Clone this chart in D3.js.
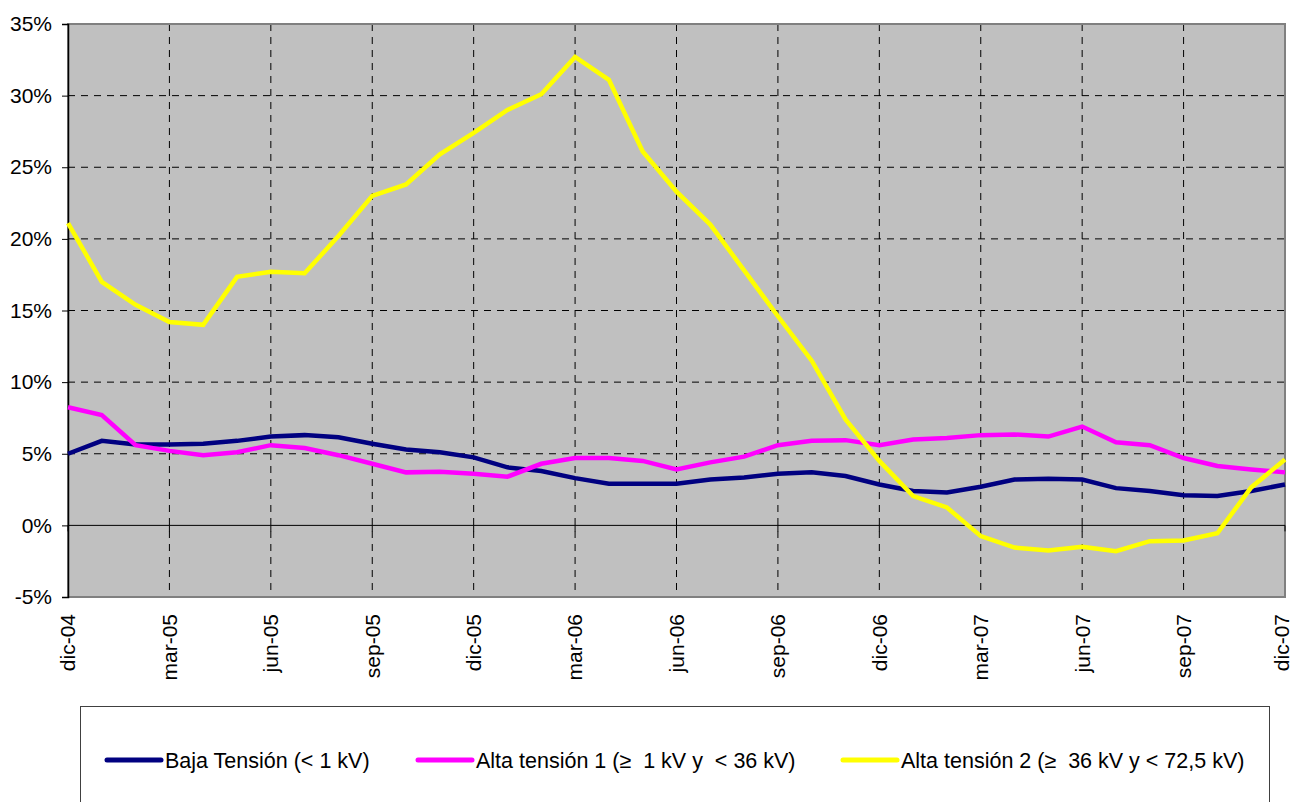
<!DOCTYPE html>
<html>
<head>
<meta charset="utf-8">
<script src="https://cdn.jsdelivr.net/npm/d3@7"></script>
<style>
  body { margin: 0; background: #fff; }
  svg { font-family: Arial, "Liberation Sans", sans-serif; }
  .grid line { stroke: #000; stroke-dasharray: 7,6; stroke-width: 1; }
  .axis text { font-size: 21px; fill: #000; }
  .legend text { white-space: pre; }
</style>
</head>
<body>
<svg id="chart" width="1293" height="802"></svg>
<script>
const months = [
  "dic-04","ene-05","feb-05","mar-05","abr-05","may-05","jun-05","jul-05","ago-05","sep-05","oct-05","nov-05",
  "dic-05","ene-06","feb-06","mar-06","abr-06","may-06","jun-06","jul-06","ago-06","sep-06","oct-06","nov-06",
  "dic-06","ene-07","feb-07","mar-07","abr-07","may-07","jun-07","jul-07","ago-07","sep-07","oct-07","nov-07",
  "dic-07"
];

const bajaTension = [
  5.0, 5.9, 5.65, 5.65, 5.7, 5.9, 6.2, 6.3, 6.15, 5.7, 5.3, 5.1,
  4.75, 4.05, 3.8, 3.3, 2.9, 2.9, 2.9, 3.2, 3.35, 3.6, 3.7, 3.45,
  2.85, 2.4, 2.3, 2.7, 3.2, 3.25, 3.2, 2.6, 2.4, 2.1, 2.05, 2.4,
  2.85
];

const altaTension1 = [
  8.25, 7.7, 5.6, 5.2, 4.9, 5.1, 5.6, 5.4, 4.9, 4.3, 3.7, 3.75,
  3.6, 3.4, 4.3, 4.7, 4.7, 4.5, 3.9, 4.4, 4.8, 5.6, 5.9, 5.95,
  5.6, 6.0, 6.1, 6.3, 6.35, 6.2, 6.9, 5.8, 5.6, 4.7, 4.15, 3.9,
  3.7
];

const altaTension2 = [
  21.1, 17.0, 15.4, 14.2, 14.0, 17.35, 17.7, 17.6, 20.2, 23.0, 23.8, 25.9,
  27.4, 29.0, 30.1, 32.7, 31.1, 26.1, 23.3, 21.0, 17.8, 14.6, 11.5, 7.4,
  4.5, 2.05, 1.25, -0.75, -1.55, -1.75, -1.5, -1.8, -1.1, -1.05, -0.55, 2.65,
  4.6
];

const yTicks = [-5, 0, 5, 10, 15, 20, 25, 30, 35];

const series = [
  { name: "Baja Tensión (< 1 kV)", color: "#000080", values: bajaTension },
  { name: "Alta tensión 1 (\u2265  1 kV y  < 36 kV)", color: "#FF00FF", values: altaTension1 },
  { name: "Alta tensión 2 (\u2265  36 kV y < 72,5 kV)", color: "#FFFF00", values: altaTension2 }
];

const margin = {top: 24, right: 8, bottom: 205, left: 68};
const width = 1293 - margin.left - margin.right;
const height = 802 - margin.top - margin.bottom;

const svg = d3.select("#chart");
const g = svg.append("g").attr("transform", "translate(" + margin.left + "," + margin.top + ")");

const x = d3.scalePoint().domain(months).range([0, width]);
const y = d3.scaleLinear().domain([-5, 35]).range([height, 0]);

const labelled = months.filter((d, i) => i % 3 === 0);

// plot background
g.append("rect")
  .attr("width", width).attr("height", height)
  .attr("fill", "#C0C0C0");

// horizontal grid
g.append("g").attr("class", "grid")
  .selectAll("line")
  .data(yTicks.filter(d => d !== 0 && d !== 35 && d !== -5))
  .enter().append("line")
    .attr("x1", 0).attr("x2", width)
    .attr("y1", d => y(d)).attr("y2", d => y(d));

// vertical grid
g.append("g").attr("class", "grid")
  .selectAll("line")
  .data(labelled.slice(1, -1))
  .enter().append("line")
    .attr("x1", d => x(d)).attr("x2", d => x(d))
    .attr("y1", 0).attr("y2", height);

// border
g.append("rect")
  .attr("width", width).attr("height", height)
  .attr("fill", "none").attr("stroke", "#808080").attr("stroke-width", 2);

// zero line with ticks
g.append("line")
  .attr("x1", 0).attr("x2", width)
  .attr("y1", y(0)).attr("y2", y(0))
  .attr("stroke", "#000").attr("stroke-width", 1);

g.append("g")
  .selectAll("line")
  .data(labelled)
  .enter().append("line")
    .attr("x1", d => x(d)).attr("x2", d => x(d))
    .attr("y1", y(0)).attr("y2", y(0) + 6)
    .attr("stroke", "#000");

// y axis
const yAxis = g.append("g")
  .attr("class", "axis")
  .call(d3.axisLeft(y).tickValues(yTicks).tickSize(6).tickPadding(10).tickFormat(d => d + "%"));
yAxis.select(".domain").attr("stroke", "#000").attr("stroke-width", 1.5);
yAxis.selectAll(".tick line").attr("stroke", "#000");

// x labels
g.append("g")
  .attr("class", "axis")
  .selectAll("text")
  .data(labelled)
  .enter().append("text")
    .attr("transform", d => "translate(" + Math.min(x(d), width - 3) + "," + (height + 17) + ") rotate(-90)")
    .attr("dy", "0.35em")
    .attr("text-anchor", "end")
    .text(d => d);

// lines
const line = d3.line()
  .x((d, i) => x(months[i]))
  .y(d => y(d));

g.selectAll(".series")
  .data(series)
  .enter().append("path")
    .attr("class", "series")
    .attr("fill", "none")
    .attr("stroke", d => d.color)
    .attr("stroke-width", 4.5)
    .attr("stroke-linejoin", "miter")
    .attr("d", d => line(d.values));

// legend
svg.append("rect")
  .attr("x", 80.5).attr("y", 706.5)
  .attr("width", 1189).attr("height", 110)
  .attr("fill", "#fff").attr("stroke", "#404040").attr("stroke-width", 1);

const legendX = [107, 418, 843];
const legend = svg.append("g")
  .attr("class", "legend")
  .selectAll("g")
  .data(series)
  .enter().append("g")
    .attr("transform", (d, i) => "translate(" + legendX[i] + ",760)");

legend.append("line")
  .attr("x1", 0).attr("x2", 54)
  .attr("stroke", d => d.color)
  .attr("stroke-width", 5)
  .attr("stroke-linecap", "round");

legend.append("text")
  .attr("x", 58)
  .attr("dy", "0.36em")
  .style("font-size", "21.5px")
  .text(d => d.name);
</script>
</body>
</html>
